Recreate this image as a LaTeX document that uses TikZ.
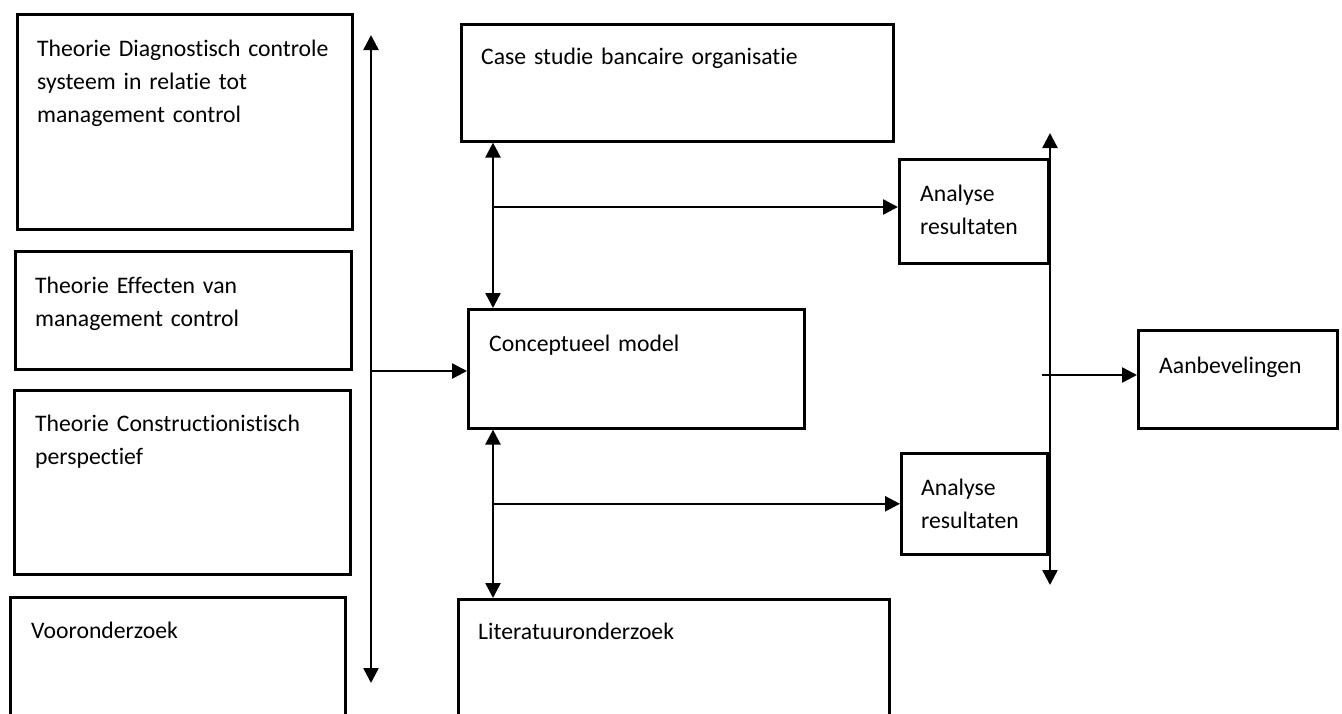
\documentclass[tikz,border=0pt]{standalone}
\usepackage{fontspec}
\setmainfont{Carlito}[Ligatures={NoCommon}]
\usetikzlibrary{arrows.meta}
\tikzset{
  box/.style={draw=black, line width=2.6pt, inner sep=0pt, anchor=north west, fill=white},
  txt/.style={anchor=base west, inner sep=0pt, align=left, text width=#1,
    font=\fontsize{23.7}{33.3}\selectfont},
  txt/.default=320pt,
  conn/.style={line width=2.5pt, -{Triangle[length=15pt,width=15pt]}},
  dconn/.style={line width=2.5pt, {Triangle[length=15pt,width=15pt]}-{Triangle[length=15pt,width=15pt]}}
}
\begin{document}
\begin{tikzpicture}[x=1pt,y=-1pt]
\useasboundingbox (0,0) rectangle (1342,713);
\fill[white] (0,0) rectangle (1342,713);
\clip (0,0) rectangle (1342,713);
% boxes
\node[box, minimum width=335pt, minimum height=215pt] (tdiag) at (16,13) {};
\node[box, minimum width=336pt, minimum height=118pt] (teff) at (14,250) {};
\node[box, minimum width=336pt, minimum height=184pt] (tcon) at (13,389) {};
\node[box, minimum width=335pt, minimum height=140pt] (voor) at (9,596) {};
\node[box, minimum width=432pt, minimum height=117pt] (case) at (460,23) {};
\node[box, minimum width=336pt, minimum height=119pt] (concept) at (467,308) {};
\node[box, minimum width=431pt, minimum height=140pt] (lit) at (457,598) {};
\node[box, minimum width=149pt, minimum height=104pt] (ana1) at (898,158) {};
\node[box, minimum width=146pt, minimum height=101pt] (ana2) at (900,452) {};
\node[box, minimum width=199pt, minimum height=98pt] (aanb) at (1137,329) {};
% texts
\node[txt] (ttdiag) at (37,56) {Theorie Diagnostisch controle\\systeem in relatie tot\\management control};
\node[txt] (tteff) at (35,293) {Theorie Effecten van\\management control};
\node[txt] (ttcon) at (35,431) {Theorie Constructionistisch\\perspectief};
\node[txt] (tvoor) at (31,638) {Vooronderzoek};
\node[txt=400pt] (tcase) at (481,64) {Case studie bancaire organisatie};
\node[txt] (tconcept) at (489,351) {Conceptueel model};
\node[txt] (tlit) at (478,639) {Literatuuronderzoek};
\node[txt=120pt] (tana1) at (920,201) {Analyse\\resultaten};
\node[txt=120pt] (tana2) at (921,495) {Analyse\\resultaten};
\node[txt=170pt] (taanb) at (1159,373) {Aanbevelingen};
% free ends
\coordinate (L1) at (371,35);
\coordinate (L2) at (371,683);
\coordinate (M) at (493,0);
\coordinate (R1) at (1050,133);
\coordinate (R2) at (1050,585);
\coordinate (R3) at (1042,375);
% connectors
\draw[dconn] (L1) -- (L2);
\draw[conn] (L1 |- 0,371) -- (concept.west |- 0,371);
\draw[dconn] (case.south -| M) -- (concept.north -| M);
\draw[conn] (M |- 0,207) -- (ana1.west |- 0,207);
\draw[dconn] (concept.south -| M) -- (lit.north -| M);
\draw[conn] (M |- ana2.west) -- (ana2.west);
\draw[dconn] (R1) -- (R2);
\draw[conn] (R3) -- (R3 -| aanb.west);
\end{tikzpicture}
\end{document}
